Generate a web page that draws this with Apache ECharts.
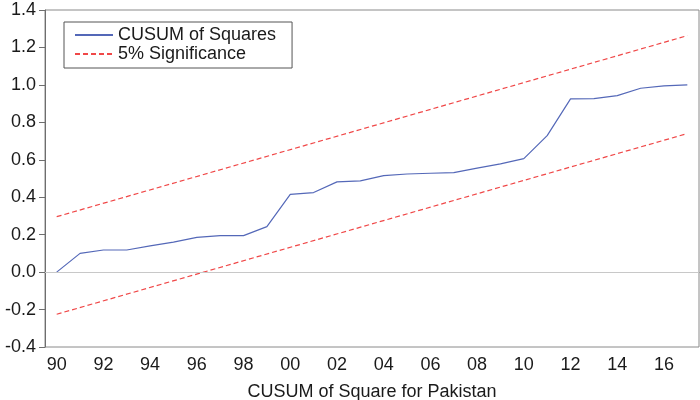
<!DOCTYPE html>
<html>
<head>
<meta charset="utf-8">
<script src="https://cdn.jsdelivr.net/npm/echarts@6/dist/echarts.min.js"></script>
<style>
  html, body { margin: 0; padding: 0; background: #fff; }
  #chart { width: 700px; height: 400px; }
</style>
</head>
<body>
<div id="chart"></div>
<script>
// years on the x axis, 1990..2017
const years = ['1990', '1991', '1992', '1993', '1994', '1995', '1996', '1997', '1998', '1999',
               '2000', '2001', '2002', '2003', '2004', '2005', '2006', '2007', '2008', '2009',
               '2010', '2011', '2012', '2013', '2014', '2015', '2016', '2017'];

// CUSUM of squares
const cusumSq = [0.000, 0.100, 0.118, 0.118, 0.140, 0.160, 0.186, 0.195, 0.195, 0.243,
                 0.415, 0.425, 0.482, 0.487, 0.515, 0.524, 0.528, 0.531, 0.555, 0.578,
                 0.606, 0.729, 0.925, 0.927, 0.943, 0.982, 0.995, 1.000];

// 5% bounds are straight lines: only the end points
const upperEnds = [0.296, 1.263];
const lowerEnds = [-0.225, 0.740];

const yTicks = { min: -0.4, max: 1.4, step: 0.2 };

const font = 'Liberation Sans, Arial, sans-serif';
const cText = '#1a1a1a';
const cAxis = '#6e6e6e';
const cBlue = '#5468b8';
const cRed = '#f04848';

const first = years[0], last = years[years.length - 1];

const chart = echarts.init(document.getElementById('chart'));
chart.setOption({
    animation: false,
    backgroundColor: '#fff',
    grid: {
        left: 45, right: 1, top: 10, bottom: 53,
        outerBoundsMode: 'none',
        show: true, borderColor: '#8a8a8a', borderWidth: 1,
    },
    legend: {
        left: 64, top: 22,
        orient: 'vertical',
        borderColor: '#555', borderWidth: 1,
        padding: [4, 16, 5, 10],
        itemWidth: 38, itemHeight: 19, itemGap: 1,
        itemStyle: { opacity: 0 },
        textStyle: { fontFamily: font, fontSize: 18, color: cText },
        data: ['CUSUM of Squares', '5% Significance'],
    },
    xAxis: {
        type: 'category',
        data: years,
        boundaryGap: true,
        name: 'CUSUM of Square for Pakistan',
        nameLocation: 'middle',
        nameGap: 36,
        nameTextStyle: { fontFamily: font, fontSize: 18, color: cText },
        axisLine: { lineStyle: { color: cAxis } },
        axisTick: { interval: 0, length: 6, lineStyle: { color: cAxis } },
        axisLabel: {
            interval: 1, margin: 9,
            fontFamily: font, fontSize: 18, color: cText,
            formatter: v => v.slice(2),
        },
        splitLine: { show: false },
    },
    yAxis: {
        type: 'value',
        min: yTicks.min, max: yTicks.max, interval: yTicks.step,
        axisLine: { show: true, lineStyle: { color: cAxis } },
        axisTick: { show: true, length: 6, lineStyle: { color: cAxis } },
        axisLabel: {
            margin: 9,
            fontFamily: font, fontSize: 18, color: cText,
            formatter: v => v.toFixed(1),
        },
        splitLine: { show: false },
    },
    series: [
        {
            name: 'CUSUM of Squares',
            type: 'line',
            data: cusumSq,
            symbol: 'none',
            lineStyle: { color: cBlue, width: 1.2 },
            itemStyle: { color: cBlue },
            markLine: {
                silent: true,
                symbol: 'none',
                label: { show: false },
                lineStyle: { color: '#c8c8c8', type: 'solid', width: 1 },
                data: [{ yAxis: 0 }],
            },
            z: 3,
        },
        {
            name: '5% Significance',
            type: 'line',
            data: [[first, upperEnds[0]], [last, upperEnds[1]]],
            symbol: 'none',
            lineStyle: { color: cRed, width: 1.2, type: [5, 3] },
            itemStyle: { color: cRed },
        },
        {
            name: '5% Significance',
            type: 'line',
            data: [[first, lowerEnds[0]], [last, lowerEnds[1]]],
            symbol: 'none',
            lineStyle: { color: cRed, width: 1.2, type: [5, 3] },
            itemStyle: { color: cRed },
        },
    ],
});
</script>
</body>
</html>
